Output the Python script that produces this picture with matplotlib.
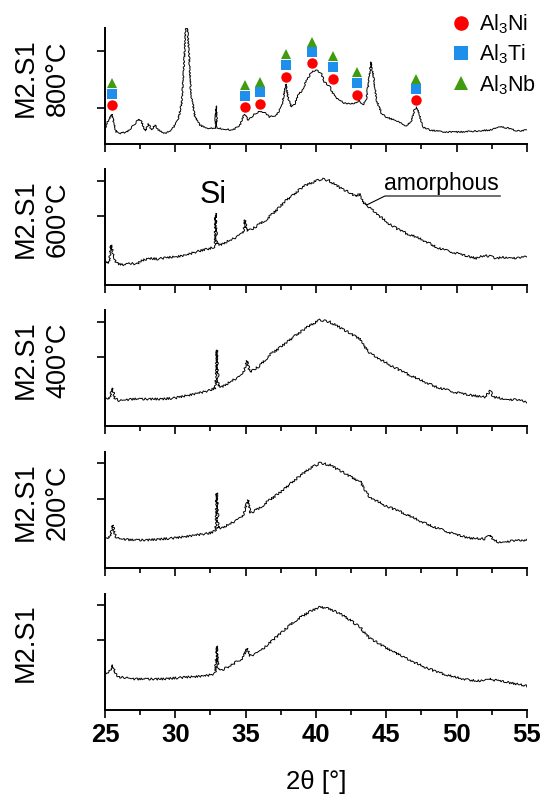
import matplotlib
matplotlib.use("Agg")
import matplotlib.pyplot as plt
from matplotlib.lines import Line2D
from matplotlib.ticker import MultipleLocator

plt.rcParams['font.family'] = ['Liberation Sans', 'DejaVu Sans']
plt.rcParams['mathtext.fontset'] = 'custom'
plt.rcParams['mathtext.rm'] = 'Liberation Sans'
plt.rcParams['mathtext.it'] = 'Liberation Sans:italic'

# ---------------- data (intensity in arbitrary units) ----
tt_800 = [25.0, 25.25, 25.5, 25.65, 25.8, 26.1, 26.55, 27.0, 27.4, 27.6, 27.85, 28.1,
          28.3, 28.55, 28.8, 29.25, 29.75, 30.2, 30.45, 30.6, 30.75, 30.85, 31.0, 31.1,
          31.4, 31.75, 32.2, 32.7, 32.82, 32.9, 32.98, 33.4, 34.1, 34.6, 34.9, 35.2,
          35.55, 36.0, 36.4, 36.7, 37.2, 37.55, 37.75, 37.85, 38.0, 38.25, 38.5, 38.75,
          39.0, 39.35, 39.7, 40.0, 40.35, 40.6, 40.85, 41.0, 41.15, 41.4, 41.65, 42.0,
          42.5, 42.85, 43.1, 43.3, 43.55, 43.75, 43.9, 44.1, 44.3, 44.65, 45.0, 45.7,
          46.45, 46.8, 47.0, 47.15, 47.35, 47.6, 48.1, 49.05, 50.25, 51.4, 52.4, 53.1,
          53.6, 54.3, 55.0]
int_800 = [15.7, 24, 29.7, 20, 12, 10.7, 12, 18, 25, 22, 13, 20,
           14, 19, 14, 10.7, 14, 24, 41, 74, 118, 118, 84, 51,
           27, 19, 15.7, 15.7, 15, 38, 16, 15, 14, 19, 29.7, 24,
           29, 33, 31, 27, 29, 37, 52, 60, 47, 37, 40, 50,
           53, 64, 72, 74, 71, 62, 59, 57, 52, 46, 44, 41,
           40, 41, 44, 39, 43, 62, 82, 66, 44, 31, 27, 23,
           18, 24, 34, 37, 29, 17, 14, 12, 12, 13, 14, 17,
           16, 13, 14]

tt_600 = [25.0, 25.25, 25.45, 25.6, 25.85, 26.3, 26.8, 27.25, 27.7, 28.2, 28.7, 29.4,
          30.1, 30.8, 31.5, 32.2, 32.7, 32.8, 32.86, 32.93, 33.2, 33.65, 34.1, 34.6,
          34.85, 34.95, 35.05, 35.15, 35.55, 36.0, 36.5, 36.95, 37.45, 37.9, 38.4, 38.85,
          39.3, 39.9, 40.4, 40.95, 41.4, 41.9, 42.4, 42.85, 43.1, 43.3, 43.7, 44.3,
          45.0, 45.7, 46.4, 47.15, 47.85, 48.6, 49.3, 50.0, 50.7, 51.4, 51.9, 52.4,
          52.85, 53.3, 53.8, 54.3, 55.0]
int_600 = [25, 21.7, 40, 26.7, 21.7, 20, 21.7, 21, 25, 26.7, 26, 27.3,
           28.3, 30, 33.3, 35.7, 37.7, 38, 71.7, 41.7, 40, 43.3, 46, 50,
           52, 65, 56, 54.3, 56.7, 61, 65.7, 71.7, 78.3, 85, 90, 95.7,
           100, 103.3, 106, 104.3, 100, 95.7, 92.3, 88.3, 91.7, 83.3, 78.3, 71.7,
           63.3, 56.7, 51.7, 47.7, 43.3, 37.7, 34.3, 31.7, 29, 26.7, 29.5, 28.5,
           26.7, 27.7, 27.7, 26.7, 28.3]

tt_400 = [25.0, 25.3, 25.5, 25.7, 26.0, 27.0, 28.0, 29.0, 30.0, 31.0, 32.0, 32.5,
          32.85, 32.95, 33.05, 33.3, 34.0, 34.8, 35.1, 35.3, 36.0, 36.7, 37.5, 38.5,
          39.5, 40.3, 41.0, 42.0, 43.0, 43.15, 43.4, 43.8, 45.0, 46.2, 47.4, 48.6,
          49.8, 50.9, 52.0, 52.4, 52.6, 53.5, 54.3, 55.0]
int_400 = [29, 27, 38, 28, 25, 27, 27, 27, 28, 31, 34, 36,
           38, 76, 40, 39, 45, 51, 65, 54, 60, 71, 79, 90,
           100, 106, 104, 96, 88, 87, 80, 73, 63, 54, 46, 39,
           34, 31, 29, 35, 29, 27, 26, 24]

tt_200 = [25.0, 25.3, 25.55, 25.75, 26.0, 27.0, 28.0, 29.0, 30.0, 31.0, 32.0, 32.5,
          32.85, 32.95, 33.05, 33.3, 34.0, 34.8, 35.15, 35.35, 36.0, 36.7, 37.5, 38.5,
          39.5, 40.3, 41.0, 42.0, 43.0, 43.15, 43.4, 43.8, 45.0, 46.2, 47.4, 48.6,
          49.8, 50.9, 52.0, 52.4, 52.6, 53.0, 54.0, 55.0]
int_200 = [31, 30, 43, 31, 29, 28, 28, 29, 30, 32, 34, 35,
           37, 75, 40, 40, 45, 51, 68, 55, 60, 68, 76, 88,
           99, 105, 103, 95, 87, 87, 79, 71, 62, 55, 47, 40,
           34, 30, 29, 33, 28, 26, 27, 28]

tt_rt = [25.0, 25.3, 25.55, 25.75, 26.0, 27.0, 28.0, 29.0, 30.0, 31.0, 32.0, 32.5,
         32.85, 32.95, 33.05, 33.3, 34.0, 34.8, 35.1, 35.3, 36.0, 36.7, 37.5, 38.5,
         39.5, 40.3, 41.0, 42.0, 43.0, 43.15, 43.4, 43.8, 45.0, 46.2, 47.4, 48.6,
         49.8, 50.9, 52.0, 52.4, 52.6, 53.5, 54.3, 55.0]
int_rt = [37, 38, 45, 36, 33, 31, 31, 31, 32, 33, 34, 35,
          37, 64, 41, 40, 45, 52, 62, 54, 58, 67, 77, 89,
          98, 103, 101, 94, 84, 83, 78, 72, 62, 53, 45, 38,
          33, 30, 29, 32, 30, 28, 26, 24]

panel_labels = ['M2.S1\n800°C', 'M2.S1\n600°C', 'M2.S1\n400°C', 'M2.S1\n200°C', 'M2.S1']
panel_yticks = [[36, 93], [69, 104], [69, 104], [69, 105], [70, 105]]

# phase markers above the 800 °C peaks
phase_pos = [25.5, 34.95, 36.0, 37.85, 39.7, 41.2, 42.9, 47.1]
al3ni_h = [39, 36.7, 40, 67, 80.7, 65, 49, 44]
al3ti_h = [50, 48, 51.7, 79, 91.7, 77, 61, 55]
al3nb_h = [61, 59, 62, 89.7, 101.7, 88, 71.7, 65]
phase_names = ['Al$_3$Ni', 'Al$_3$Ti', 'Al$_3$Nb']
phase_colors = ['#FF0000', '#1E8FEA', '#3F9C0E']
phase_markers = ['o', 's', '^']

x_ticks = [25, 30, 35, 40, 45, 50, 55]

# ---------------- figure ----------------
fig = plt.figure(figsize=(5.46, 8.0), dpi=100)
left, width, height = 0.1923, 0.7729, 0.145
bottoms = [0.82, 0.64375, 0.4675, 0.29, 0.1125]

series = [(tt_800, int_800), (tt_600, int_600), (tt_400, int_400),
          (tt_200, int_200), (tt_rt, int_rt)]

axes = []
for i, (b, (xx, yy)) in enumerate(zip(bottoms, series)):
    ax = fig.add_axes([left, b, width, height])
    axes.append(ax)
    line, = ax.plot(xx, yy, color='black', lw=0.7)
    if i == 0:
        line.set_sketch_params(scale=0.7, length=2.0, randomness=4)
    else:
        line.set_sketch_params(scale=1.1, length=1.3, randomness=4)
    ax.set_xlim(25, 55)
    ax.set_ylim(0, 116)
    for s in ('top', 'right'):
        ax.spines[s].set_visible(False)
    for s in ('left', 'bottom'):
        ax.spines[s].set_linewidth(1.4)
    ax.set_xticks(x_ticks)
    ax.xaxis.set_minor_locator(MultipleLocator(2.5))
    ax.set_yticks(panel_yticks[i])
    ax.tick_params(axis='y', which='major', length=6, width=1.2, labelleft=False)
    ax.tick_params(axis='x', which='major', length=6, width=1.2, direction='out')
    ax.tick_params(axis='x', which='minor', length=3.5, width=1.2, direction='out')
    if i < 4:
        ax.tick_params(axis='x', labelbottom=False)
    else:
        ax.tick_params(axis='x', labelsize=18.5, pad=3)
        for t in ax.get_xticklabels():
            t.set_fontweight('bold')
        ax.set_xlabel('2θ [°]', fontsize=18.5, va='center')
        ax.xaxis.set_label_coords(0.5, -0.62)
    ax.set_ylabel(panel_labels[i], fontsize=19.5, va='center', linespacing=1.3)
    if i < 4:
        ax.yaxis.set_label_coords(-0.149, 0.57)
    else:
        ax.yaxis.set_label_coords(-0.187, 0.578)

# phase markers on top panel
ax0 = axes[0]
for hs, c, m in zip([al3ni_h, al3ti_h, al3nb_h], phase_colors, phase_markers):
    ax0.plot(phase_pos, hs, linestyle='none', marker=m, color=c,
             markersize=7.5, markeredgewidth=0, clip_on=False)

handles = [Line2D([], [], linestyle='none', marker=m, color=c, markersize=10.5,
                  markeredgewidth=0)
           for m, c in zip(phase_markers, phase_colors)]
fig.legend(handles, phase_names, loc='upper left', bbox_to_anchor=(0.826, 0.984),
           frameon=False, fontsize=15.5, handlelength=0.95, handletextpad=0.35,
           labelspacing=0.3, borderpad=0, borderaxespad=0)

# annotations on the 600 °C panel
ax1 = axes[1]
ax1.text(32.68, 82, 'Si', fontsize=22, ha='center', va='baseline')
ax1.text(44.85, 95, 'amorphous', fontsize=16.5, ha='left', va='baseline')
leader_x = [43.6, 44.9, 53.1]
leader_y = [80, 89, 89]
ax1.plot(leader_x, leader_y, color='black', lw=0.8)

fig.savefig('out.png', dpi=100)
